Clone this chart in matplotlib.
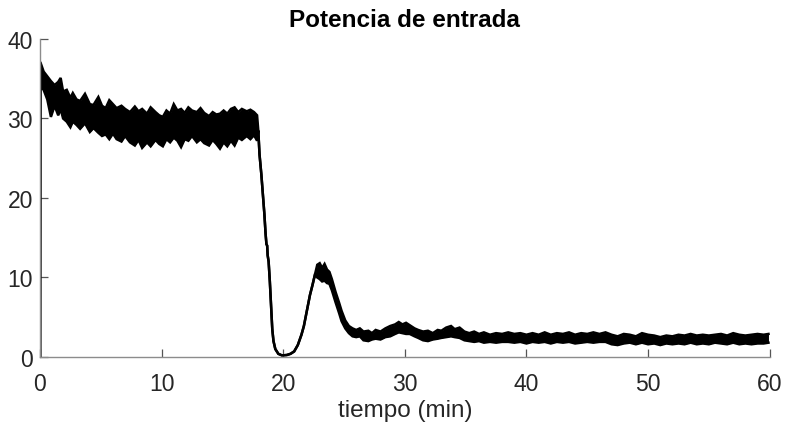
import matplotlib
matplotlib.use("Agg")
import matplotlib.pyplot as plt
import numpy as np

# Input power (kW) vs. time (min): upper and lower extent of the noisy trace.
# Where the trace is a single clean line, upper == lower.
tiempo = [
    0.0, 0.02, 0.05, 0.3, 0.6, 0.9, 1.2, 1.5, 1.7, 1.9, 2.2, 2.5, 2.7, 3.0, 3.3, 3.7,
    4.1, 4.4, 4.8, 5.1, 5.4, 5.7, 6.0, 6.3, 6.7, 7.0, 7.4, 7.8, 8.1, 8.4, 8.8,
    9.1, 9.5, 9.8, 10.1, 10.4, 10.7, 11.0, 11.3, 11.6, 11.9, 12.2, 12.5, 12.9,
    13.2, 13.5, 13.9, 14.2, 14.5, 14.8, 15.1, 15.4, 15.7, 16.0, 16.3, 16.6,
    17.0, 17.3, 17.6, 17.85,
    17.95, 18.05, 18.2, 18.35, 18.45, 18.55, 18.62, 18.68, 18.72, 18.8, 18.9,
    19.0, 19.1, 19.2, 19.35, 19.6, 19.9, 20.3, 20.6, 20.9, 21.2, 21.5, 21.7,
    22.0, 22.2, 22.4, 22.6,
    22.8, 23.0, 23.2, 23.4, 23.6, 23.8, 24.0, 24.3, 24.6, 24.8, 25.1, 25.4,
    25.7, 26.0, 26.3, 26.6, 27.0, 27.3, 27.6, 28.0, 28.4, 28.8, 29.2, 29.5,
    29.8, 30.1, 30.4, 30.8, 31.1, 31.5, 31.9, 32.3, 32.7, 33.0, 33.4, 33.8,
    34.1, 34.5, 34.9, 35.3, 35.7, 36.1, 36.5, 37.0, 37.5, 38.0, 38.5, 39.0,
    39.5, 40.0, 40.5, 41.0, 41.5, 42.0, 42.5, 43.0, 43.5, 44.0, 44.5, 45.0,
    45.5, 46.0, 46.5, 47.0, 47.5, 48.0, 48.5, 49.0, 49.5, 50.0, 50.5, 51.0,
    51.5, 52.0, 52.5, 53.0, 53.5, 54.0, 54.5, 55.0, 55.5, 56.0, 56.5, 57.0,
    57.5, 58.0, 58.5, 59.0, 59.5, 59.9,
]

potencia_max = [
    0.0, 37.0, 37.0, 35.9, 35.3, 34.7, 34.2, 34.6, 35.1, 33.4, 33.6, 32.6, 33.2, 32.4, 32.2, 33.1,
    31.8, 31.7, 32.7, 31.6, 31.3, 32.3, 31.8, 31.3, 31.6, 31.2, 30.8, 31.5, 30.9, 31.2, 30.6,
    31.4, 30.8, 30.4, 30.2, 31.0, 30.6, 31.8, 31.0, 31.2, 30.7, 31.4, 31.0, 30.8,
    31.3, 30.7, 30.3, 30.8, 30.5, 30.6, 31.0, 30.6, 31.2, 31.4, 30.8, 31.2,
    30.9, 31.1, 30.8, 30.4,
    28.5, 25.5, 23.0, 20.0, 18.0, 15.5, 14.2, 14.0, 12.8, 12.0, 9.5,
    6.5, 3.5, 2.0, 1.0, 0.4, 0.2, 0.25, 0.4, 0.7, 1.5, 2.8, 3.9,
    6.2, 7.8, 9.0, 10.3,
    11.6, 11.8, 11.2, 11.7, 11.0, 10.7, 9.8, 8.2, 6.8, 5.8, 4.6, 3.9,
    3.6, 3.4, 3.6, 3.2, 3.3, 3.0, 3.4, 3.2, 3.6, 3.9, 4.1, 4.4,
    4.1, 4.3, 4.0, 3.6, 3.4, 3.2, 3.3, 3.0, 3.4, 3.3, 3.7, 3.9,
    3.5, 3.7, 3.2, 3.0, 3.2, 2.9, 3.1, 2.8, 3.0, 2.9, 3.1, 2.9,
    3.0, 2.8, 3.0, 2.8, 3.1, 2.8, 3.0, 2.9, 3.1, 2.8, 3.0, 2.9,
    3.1, 2.9, 3.1, 2.8, 2.6, 2.9, 2.8, 2.6, 3.0, 2.8, 2.7, 2.5,
    2.7, 2.6, 2.8, 2.7, 2.9, 2.7, 2.8, 2.7, 2.8, 2.9, 2.7, 3.0,
    2.8, 2.7, 2.8, 2.9, 2.8, 2.9,
]

potencia_min = [
    0.0, 0.0, 34.0, 33.6, 32.4, 30.2, 31.6, 30.4, 31.2, 30.0, 29.6, 28.9, 29.6, 29.2, 28.7, 29.4,
    28.3, 28.8, 28.2, 27.8, 28.0, 27.4, 28.1, 27.4, 27.1, 27.8, 27.0, 26.6, 27.3, 26.3, 27.0,
    26.5, 27.3, 26.8, 26.5, 27.4, 27.0, 27.6, 27.2, 26.4, 27.4, 27.2, 27.8, 27.0,
    27.4, 26.9, 26.6, 27.3, 26.8, 26.2, 27.0, 26.5, 27.2, 26.6, 27.6, 27.3,
    27.8, 27.4, 27.9, 27.2,
    28.5, 25.5, 23.0, 20.0, 18.0, 15.5, 14.2, 14.0, 12.8, 12.0, 9.5,
    6.5, 3.5, 2.0, 1.0, 0.4, 0.2, 0.25, 0.4, 0.7, 1.5, 2.8, 3.9,
    6.2, 7.8, 9.0, 10.3,
    10.0, 9.8, 9.5, 9.6, 9.3, 9.2, 8.4, 6.9, 5.5, 4.5, 3.6, 3.0,
    2.6, 2.5, 2.6, 2.1, 2.0, 2.2, 2.3, 2.2, 2.5, 2.6, 2.9, 3.1,
    3.0, 2.9, 2.9, 2.6, 2.4, 2.1, 2.0, 2.2, 2.3, 2.4, 2.5, 2.6,
    2.5, 2.4, 2.1, 2.0, 1.9, 2.0, 1.8, 1.9, 1.8, 1.9, 1.9, 1.8,
    1.9, 1.7, 1.9, 1.8, 1.9, 1.7, 1.9, 1.8, 1.9, 1.7, 1.8, 1.9,
    1.8, 1.9, 1.9, 1.6, 1.5, 1.7, 1.8, 1.6, 1.8, 1.6, 1.7, 1.5,
    1.7, 1.6, 1.7, 1.6, 1.8, 1.6, 1.7, 1.6, 1.8, 1.7, 1.6, 1.8,
    1.6, 1.7, 1.6, 1.7, 1.7, 1.8,
]

x_ticks = [0, 10, 20, 30, 40, 50, 60]
y_ticks = [0, 10, 20, 30, 40]

plt.rcParams['font.family'] = ['Liberation Sans Narrow', 'Liberation Sans', 'DejaVu Sans']

fig = plt.figure(figsize=(7.87, 4.27), dpi=100)
ax = fig.add_axes([0.0508, 0.1616, 0.9272, 0.7448])

t = np.array(tiempo)
hi = np.array(potencia_max)
lo = np.array(potencia_min)

ax.fill_between(t, lo, hi, color='black', linewidth=0)
ax.plot(t, hi, color='black', linewidth=1.8, solid_joinstyle='miter')
ax.plot(t, lo, color='black', linewidth=1.8, solid_joinstyle='miter')

ax.set_xlim(0, 60)
ax.set_ylim(0, 40)
ax.set_xticks(x_ticks)
ax.set_yticks(y_ticks)

for side in ('top', 'right'):
    ax.spines[side].set_visible(False)
for side in ('left', 'bottom'):
    ax.spines[side].set_color('#8c8c8c')
    ax.spines[side].set_linewidth(1.0)

ax.tick_params(direction='in', length=6, width=0.9, color='#555555',
               labelsize=16.5, labelcolor='#262626')
ax.tick_params(axis='x', pad=11)
ax.tick_params(axis='y', pad=5)

ax.set_xlabel('tiempo (min)', fontsize=17.5, color='#262626', labelpad=3)
ax.set_title('Potencia de entrada', fontsize=17.5, fontweight='bold',
             family=['Liberation Sans', 'DejaVu Sans'], color='black', pad=9)

fig.savefig('out.png', dpi=100)
